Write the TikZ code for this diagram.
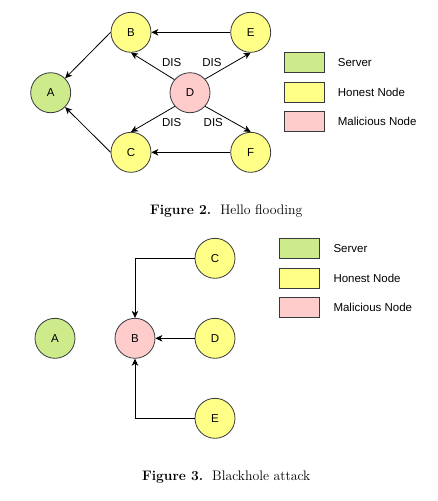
\documentclass[tikz,border=0pt]{standalone}
\usepackage{fontspec}
\setsansfont{Liberation Sans}
\usetikzlibrary{arrows.meta}
\definecolor{srvgreen}{HTML}{CDEB8B}
\definecolor{honyel}{HTML}{FFFF88}
\definecolor{malpink}{HTML}{FFCCCC}
\definecolor{strk}{HTML}{36393D}
\begin{document}
\begin{tikzpicture}[x=1pt,y=-1pt,
  nd/.style={circle,draw=strk,line width=0.8pt,minimum size=40pt,inner sep=0pt,font=\sffamily\fontsize{11.5}{13}\selectfont},
  srv/.style={nd,fill=srvgreen},
  hon/.style={nd,fill=honyel},
  mal/.style={nd,fill=malpink},
  legbox/.style={rectangle,draw=strk,line width=0.8pt,minimum width=40pt,minimum height=20pt,inner sep=0pt},
  legtxt/.style={anchor=west,inner sep=0pt,font=\sffamily\fontsize{11.5}{13}\selectfont},
  lbl/.style={inner sep=0pt,font=\sffamily\fontsize{11.5}{13}\selectfont},
  arr/.style={draw=black,line width=0.8pt,-{Stealth[length=7pt,width=6.5pt,inset=2pt]}},
  figcap/.style={font=\fontsize{13.8}{16}\selectfont}]
\useasboundingbox (0,0) rectangle (438,501);
% ---------- Figure 2 ----------
\node[srv] (A) at (50.7,92.7) {A};
\node[hon] (B) at (131,32.3) {B};
\node[hon] (E) at (250.7,32.3) {E};
\node[mal] (D) at (190,92.7) {D};
\node[hon] (C) at (131,152.3) {C};
\node[hon] (F) at (250.7,152.3) {F};
\draw[arr] (E) -- (B);
\draw[arr] (F) -- (C);
\draw[arr] (B.west) -- (A.45);
\draw[arr] (C.west) -- (A.-45);
\draw[arr] (D.140) -- (B.south);
\draw[arr] (D.42) -- (E.south);
\draw[arr] (D.-138) -- (C.north);
\draw[arr] (D.-42) -- (F.north);
\node[lbl] (dis1) at (171.7,62.3) {DIS};
\node[lbl] (dis2) at (212,62.3) {DIS};
\node[lbl] (dis3) at (171.7,122.7) {DIS};
\node[lbl] (dis4) at (213.3,122.7) {DIS};
\node[legbox,fill=srvgreen] (l1) at (304.3,62.3) {};
\node[legbox,fill=honyel] (l2) at (304.3,92.3) {};
\node[legbox,fill=malpink] (l3) at (304.3,121.7) {};
\node[legtxt] (t1) at (337.7,62.3) {Server};
\node[legtxt] (t2) at (337.7,92.3) {Honest Node};
\node[legtxt] (t3) at (337.7,121.7) {Malicious Node};
\node[figcap] (cap1) at (226.3,210.7) {\textbf{Figure 2.}\ \ Hello flooding};
% ---------- Figure 3 ----------
\node[srv] (A2) at (55,338.3) {A};
\node[mal] (B2) at (135,338.3) {B};
\node[hon] (C2) at (215,258.3) {C};
\node[hon] (D2) at (215,338.3) {D};
\node[hon] (E2) at (215,418.3) {E};
\draw[arr] (C2.west) -| (B2.north);
\draw[arr] (D2) -- (B2);
\draw[arr] (E2.west) -| (B2.south);
\node[legbox,fill=srvgreen] (m1) at (299.7,248.3) {};
\node[legbox,fill=honyel] (m2) at (299.7,278.3) {};
\node[legbox,fill=malpink] (m3) at (299.7,307.3) {};
\node[legtxt] (u1) at (333.3,248.3) {Server};
\node[legtxt] (u2) at (333.3,278.3) {Honest Node};
\node[legtxt] (u3) at (333.3,307.3) {Malicious Node};
\node[figcap] (cap2) at (226.2,476.7) {\textbf{Figure 3.}\ \ Blackhole attack};
\end{tikzpicture}
\end{document}
